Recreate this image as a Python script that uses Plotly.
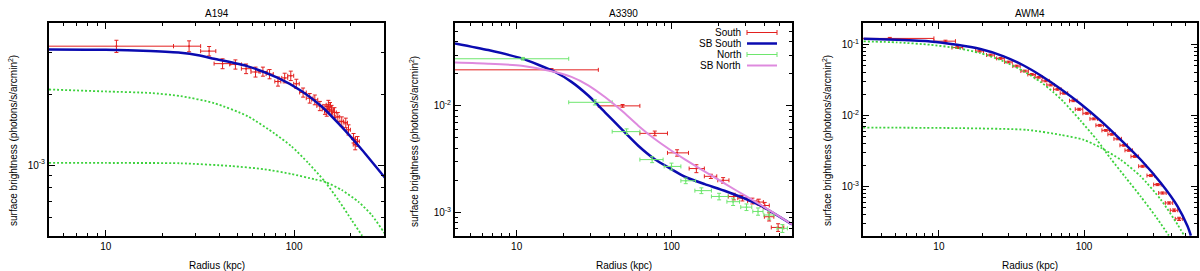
import math
import plotly.graph_objects as go

W, H = 1200, 271

# ---------------- A194 ----------------
a194_r   = [11.4, 27.7, 35.4, 41.7, 48.8, 55.6, 62.4, 68.3, 74.1, 82.1, 89.1, 96.0, 102.8, 111.6, 121.0,
            128.8, 137.0, 145.8, 149.0, 152.0, 155.0, 158.0, 163.7, 170.6, 179.0, 188.0, 194.4, 206.8, 211.0, 217.0]
a194_rlo = [0.5, 22.9, 31.9, 37.6, 45.5, 52.5, 59.0, 65.0, 71.0, 79.0, 86.0, 92.5, 99.5, 107.0, 116.0,
            124.0, 132.0, 141.0, 145.0, 148.0, 151.0, 154.0, 160.0, 166.5, 175.0, 184.0, 190.0, 202.0, 206.0, 212.0]
a194_rhi = [22.9, 31.9, 38.4, 46.1, 52.5, 59.0, 66.0, 72.0, 77.5, 85.0, 92.5, 99.5, 106.5, 116.0, 126.0,
            133.5, 142.0, 150.5, 153.0, 156.0, 159.0, 162.0, 167.5, 174.5, 183.0, 192.0, 199.0, 211.5, 216.0, 222.0]
a194_sb  = [3.19e-3, 3.19e-3, 3.04e-3, 2.69e-3, 2.67e-3, 2.56e-3, 2.48e-3, 2.49e-3, 2.43e-3, 2.26e-3, 2.34e-3,
            2.39e-3, 2.21e-3, 2.03e-3, 1.92e-3, 1.89e-3, 1.78e-3, 1.72e-3, 1.69e-3, 1.80e-3, 1.76e-3, 1.71e-3,
            1.67e-3, 1.60e-3, 1.53e-3, 1.51e-3, 1.41e-3, 1.30e-3, 1.22e-3, 1.26e-3]
a194_err = [0.19e-3, 0.17e-3, 0.14e-3, 0.13e-3, 0.12e-3, 0.12e-3, 0.12e-3, 0.11e-3, 0.11e-3, 0.10e-3, 0.11e-3,
            0.11e-3, 0.10e-3, 0.09e-3, 0.09e-3, 0.09e-3, 0.08e-3, 0.08e-3, 0.08e-3, 0.08e-3, 0.08e-3, 0.08e-3,
            0.08e-3, 0.07e-3, 0.07e-3, 0.07e-3, 0.07e-3, 0.06e-3, 0.06e-3, 0.06e-3]
a194_model_r  = [5.0, 10.0, 17.26, 24.97, 31.0, 37.62, 56.75, 82.1, 109.4, 140.0, 179.0, 229.0, 305.1]
a194_model_sb = [3.09e-3, 3.08e-3, 3.04e-3, 2.99e-3, 2.92e-3, 2.82e-3, 2.62e-3, 2.34e-3, 2.06e-3, 1.77e-3,
                 1.45e-3, 1.16e-3, 8.78e-4]
a194_c1_r  = [5.0, 10.0, 17.26, 24.97, 37.62, 56.75, 78.7, 96.8, 118.9, 145.9, 171.8, 202.4, 229.0, 245.0]
a194_c1_sb = [2.09e-3, 2.05e-3, 2.02e-3, 1.96e-3, 1.83e-3, 1.61e-3, 1.36e-3, 1.20e-3, 1.02e-3, 8.49e-4, 7.10e-4,
              5.83e-4, 5.03e-4, 4.6e-4]
a194_c2_r  = [5.0, 10.0, 24.9, 46.3, 69.7, 96.8, 128.8, 145.9, 179.0, 219.6, 258.8, 299.0, 320.0]
a194_c2_sb = [1.02e-3, 1.02e-3, 1.017e-3, 9.9e-4, 9.59e-4, 9.16e-4, 8.69e-4, 8.49e-4, 7.83e-4, 6.98e-4, 6.12e-4,
              5.20e-4, 4.8e-4]

# ---------------- A3390 ----------------
s_r   = [16.8, 48.3, 78.0, 108.7, 144.8, 179.6, 215.5, 252.4, 287.0, 333.0, 366.0, 400.0, 427.0, 488.0]
s_rlo = [0.3, 33.7, 62.5, 94.2, 130.0, 163.0, 199.0, 233.0, 268.0, 310.0, 342.0, 374.0, 398.0, 441.0]
s_rhi = [33.7, 62.5, 94.2, 128.8, 163.0, 196.0, 235.0, 277.0, 306.0, 357.0, 392.0, 428.0, 458.0, 531.0]
s_sb  = [2.18e-2, 1.0e-2, 5.52e-3, 3.62e-3, 2.58e-3, 2.18e-3, 2.0e-3, 1.41e-3, 1.36e-3, 1.28e-3, 1.25e-3,
         1.16e-3, 9.1e-4, 7.22e-4]
s_err = [0.06e-2, 0.03e-2, 0.28e-3, 0.25e-3, 0.22e-3, 0.10e-3, 0.12e-3, 0.10e-3, 0.08e-3, 0.08e-3, 0.08e-3,
         0.08e-3, 0.8e-4, 0.6e-4]
n_r   = [11.0, 32.0, 51.3, 75.0, 100.0, 123.6, 156.0, 203.0, 250.0, 305.0, 362.0, 427.0, 520.0]
n_rlo = [0.3, 21.7, 41.4, 62.5, 89.7, 115.0, 141.6, 181.0, 228.0, 280.0, 335.0, 395.0, 480.0]
n_rhi = [21.7, 41.4, 62.5, 88.3, 115.0, 143.0, 181.0, 232.0, 275.0, 330.0, 390.0, 460.0, 560.0]
n_sb  = [2.77e-2, 1.08e-2, 5.73e-3, 3.13e-3, 2.70e-3, 1.98e-3, 1.60e-3, 1.41e-3, 1.26e-3, 1.12e-3, 1.02e-3,
         9.45e-4, 7.08e-4]
n_err = [0.08e-2, 0.06e-2, 0.35e-3, 0.20e-3, 0.20e-3, 0.12e-3, 0.10e-3, 0.10e-3, 0.10e-3, 0.08e-3, 0.08e-3,
         0.8e-4, 0.6e-4]
sbs_r  = [4.0, 6.56, 10.77, 17.7, 22.6, 29.0, 37.2, 47.6, 61.0, 78.0, 100.0, 121.9, 164.0, 226.5, 371.0, 600.0]
sbs_sb = [3.86e-2, 3.34e-2, 2.79e-2, 2.08e-2, 1.68e-2, 1.25e-2, 8.71e-3, 6.05e-3, 4.22e-3, 3.15e-3, 2.54e-3,
          2.16e-3, 1.84e-3, 1.57e-3, 1.17e-3, 7.7e-4]
sbn_r  = [4.0, 6.56, 10.77, 17.7, 22.6, 29.0, 37.2, 47.6, 61.0, 78.0, 100.0, 121.9, 152.5, 226.5, 305.0,
          410.0, 600.0]
sbn_sb = [2.55e-2, 2.49e-2, 2.38e-2, 2.08e-2, 1.87e-2, 1.56e-2, 1.21e-2, 9.04e-3, 6.52e-3, 4.88e-3, 3.79e-3,
          3.15e-3, 2.58e-3, 1.82e-3, 1.41e-3, 1.09e-3, 7.7e-4]

# ---------------- AWM4 ----------------
w_r   = [4.59, 11.1, 13.4, 19.1, 22.7, 26.6, 30.2, 34.3, 39.0, 43.6, 48.7, 54.4, 58.9, 65.6, 72.8, 84.5, 92.5,
         104.4, 116.7, 128.3, 141.2, 155.2, 170.8, 187.8, 203.4, 223.7, 252.8, 288.5, 320.8, 347.3, 385.5, 417.4, 451.6]
w_rlo = [0.3, 9.24, 12.3, 17.9, 21.3, 25.0, 28.4, 32.3, 36.7, 41.0, 45.8, 51.2, 55.4, 61.7, 68.5, 79.5, 87.0,
         98.2, 109.8, 120.7, 132.8, 146.0, 160.7, 176.7, 191.4, 210.5, 237.8, 271.4, 301.8, 326.7, 362.7, 392.7, 424.9]
w_rhi = [9.24, 13.0, 14.6, 20.3, 24.1, 28.2, 32.0, 36.3, 41.3, 46.2, 51.6, 57.6, 62.4, 69.5, 77.1, 89.5, 98.0,
         110.6, 123.6, 135.9, 149.6, 164.4, 180.9, 198.9, 215.4, 236.9, 267.8, 305.6, 339.8, 367.9, 408.3, 442.1, 478.3]
w_sb  = [0.1213, 0.111, 0.0902, 0.0805, 0.0708, 0.0635, 0.0564, 0.0495, 0.0421, 0.0377, 0.0344, 0.0306, 0.0268,
         0.0233, 0.0205, 0.0161, 0.0122, 0.0107, 8.93e-3, 7.24e-3, 6.15e-3, 5.41e-3, 4.67e-3, 3.79e-3, 3.22e-3,
         2.64e-3, 1.92e-3, 1.42e-3, 1.06e-3, 8.07e-4, 5.84e-4, 4.61e-4, 3.49e-4]
w_err = [0.004, 0.0035, 0.0027, 0.0024, 0.0021, 0.0019, 0.0017, 0.0015, 0.0013, 0.0011, 0.0010, 0.0009, 0.0008,
         0.0007, 0.0006, 0.0005, 0.0004, 0.00033, 0.00027, 0.00022, 0.00018, 0.00016, 0.00014, 0.00011, 0.0001,
         0.8e-4, 0.6e-4, 0.45e-4, 0.35e-4, 0.28e-4, 0.22e-4, 0.2e-4, 0.18e-4]
w_model_r  = [3.03, 5.13, 8.72, 13.31, 19.30, 27.94, 38.38, 50.29, 69.07, 94.89, 130.4, 179.1, 246.0, 338.1,
              440.7, 516.6, 544.4]
w_model_sb = [0.1199, 0.1161, 0.1102, 0.0987, 0.0859, 0.0679, 0.0504, 0.0365, 0.0236, 0.0145, 8.37e-3, 4.53e-3,
              2.37e-3, 1.116e-3, 5.24e-4, 2.74e-4, 2.03e-4]
w_c1_r  = [3.03, 5.13, 8.72, 13.31, 19.30, 27.94, 38.38, 50.29, 61.8, 72.4, 94.89, 122.4, 152.8, 193.9, 246.0,
           312.2, 383.8]
w_c1_sb = [0.1102, 0.1067, 0.0987, 0.0887, 0.0754, 0.0577, 0.0418, 0.0295, 0.0210, 0.0155, 8.37e-3, 4.53e-3,
           2.45e-3, 1.325e-3, 7.17e-4, 3.75e-4, 2.03e-4]
w_c2_r  = [3.01, 14.1, 40.7, 69.07, 99.5, 130.4, 179.1, 246.0, 338.1, 440.7, 489.5]
w_c2_sb = [6.74e-3, 6.61e-3, 6.25e-3, 5.32e-3, 4.53e-3, 3.50e-3, 2.37e-3, 1.38e-3, 6.5e-4, 2.90e-4, 2.03e-4]

titles = ["A194", "A3390", "AWM4"]
x_ranges = [(5, 300), (4, 600), (3, 600)]
y_ranges = [(5e-4, 4e-3), (6e-4, 6e-2), (2e-4, 0.2)]
x_major = [10, 100]
y_major = [[1e-3], [1e-2, 1e-3], [1e-1, 1e-2, 1e-3]]
y_major_text = [["10<sup>-3</sup>"], ["10<sup>-2</sup>", "10<sup>-3</sup>"],
                ["10<sup>-1</sup>", "10<sup>-2</sup>", "10<sup>-3</sup>"]]

RED = "#e3201f"
BLUE = "#0b0bb0"
LGREEN = "#6ee66e"
DGREEN = "#3dd23d"
PINK = "#de8ade"
FONT = "Liberation Sans"

# pixel layout of the three panels
px_x = [(49, 384), (455, 792), (863, 1197)]
px_top, px_bot = 23, 236
ydom = [1 - px_bot / H, 1 - px_top / H]

fig = go.Figure()


def minor_vals(lo, hi):
    vals = []
    for e in range(-6, 4):
        for m in range(2, 10):
            v = m * 10 ** e
            if lo <= v <= hi:
                vals.append(v)
    return vals


def errtrace(r, rlo, rhi, sb, err, color, xa, ya):
    return go.Scatter(
        x=r, y=sb, mode="markers", xaxis=xa, yaxis=ya, showlegend=False,
        marker=dict(size=2, color=color),
        error_x=dict(type="data", symmetric=False,
                     array=[h - c for h, c in zip(rhi, r)],
                     arrayminus=[c - l for c, l in zip(r, rlo)],
                     color=color, thickness=1, width=2),
        error_y=dict(type="data", array=err, color=color, thickness=1, width=2),
    )


def line(r, sb, color, width, dash, xa, ya):
    return go.Scatter(x=r, y=sb, mode="lines", xaxis=xa, yaxis=ya, showlegend=False,
                      line=dict(color=color, width=width, dash=dash, shape="spline", smoothing=0.6))


DOT = "2px,2px"
# Panel 1
fig.add_trace(errtrace(a194_r, a194_rlo, a194_rhi, a194_sb, a194_err, RED, "x", "y"))
fig.add_trace(line(a194_model_r, a194_model_sb, BLUE, 2.5, "solid", "x", "y"))
fig.add_trace(line(a194_c1_r, a194_c1_sb, DGREEN, 1.8, DOT, "x", "y"))
fig.add_trace(line(a194_c2_r, a194_c2_sb, DGREEN, 1.8, DOT, "x", "y"))
# Panel 2
fig.add_trace(errtrace(s_r, s_rlo, s_rhi, s_sb, s_err, RED, "x2", "y2"))
fig.add_trace(line(sbs_r, sbs_sb, BLUE, 2.5, "solid", "x2", "y2"))
fig.add_trace(errtrace(n_r, n_rlo, n_rhi, n_sb, n_err, LGREEN, "x2", "y2"))
fig.add_trace(line(sbn_r, sbn_sb, PINK, 2, "solid", "x2", "y2"))
# Panel 3
fig.add_trace(errtrace(w_r, w_rlo, w_rhi, w_sb, w_err, RED, "x3", "y3"))
fig.add_trace(line(w_model_r, w_model_sb, BLUE, 2.5, "solid", "x3", "y3"))
fig.add_trace(line(w_c1_r, w_c1_sb, DGREEN, 1.8, DOT, "x3", "y3"))
fig.add_trace(line(w_c2_r, w_c2_sb, DGREEN, 1.8, DOT, "x3", "y3"))

layout = dict(width=W, height=H, margin=dict(l=0, r=0, t=0, b=0),
              paper_bgcolor="white", plot_bgcolor="white", showlegend=False,
              font=dict(family=FONT, size=10, color="black"))
annotations = []
shapes = []
for i in range(3):
    sx = "" if i == 0 else str(i + 1)
    x0, x1 = x_ranges[i]
    y0, y1 = y_ranges[i]
    common = dict(type="log", showline=True, linecolor="black", linewidth=2, mirror="allticks",
                  ticks="inside", ticklen=6, tickwidth=1, tickcolor="black", showgrid=False,
                  zeroline=False, tickfont=dict(family=FONT, size=10, color="black"))
    layout["xaxis" + sx] = dict(common, domain=[px_x[i][0] / W, px_x[i][1] / W],
                                range=[math.log10(x0), math.log10(x1)],
                                anchor="y" + sx, tickmode="array", tickvals=x_major,
                                ticktext=[str(v) for v in x_major],
                                minor=dict(tickmode="array", tickvals=minor_vals(x0, x1), ticks="inside",
                                           ticklen=3, tickcolor="black", tickwidth=1))
    layout["yaxis" + sx] = dict(common, domain=ydom, range=[math.log10(y0), math.log10(y1)],
                                anchor="x" + sx, tickmode="array", tickvals=y_major[i],
                                ticktext=y_major_text[i],
                                minor=dict(tickmode="array", tickvals=minor_vals(y0, y1), ticks="inside",
                                           ticklen=3, tickcolor="black", tickwidth=1))
    cx = (px_x[i][0] + px_x[i][1]) / 2 / W
    annotations.append(dict(text=titles[i], x=cx, y=1 - 13 / H, xref="paper", yref="paper",
                            showarrow=False, xanchor="center", yanchor="middle",
                            font=dict(family=FONT, size=10)))
    annotations.append(dict(text="Radius (kpc)", x=cx, y=1 - 265 / H, xref="paper", yref="paper",
                            showarrow=False, xanchor="center", yanchor="middle",
                            font=dict(family=FONT, size=10)))
    ylab_x = [13, 414, 827][i]
    annotations.append(dict(text="surface brightness (photons/s/arcmin<sup>2</sup>)", x=ylab_x / W,
                            y=1 - 141 / H, xref="paper", yref="paper", showarrow=False, textangle=-90,
                            xanchor="center", yanchor="middle", font=dict(family=FONT, size=10)))

# legend of the A3390 panel (gnuplot style: text left, sample right)
leg_labels = ["South", "SB South", "North", "SB North"]
leg_colors = [RED, BLUE, LGREEN, PINK]
leg_widths = [1, 2.5, 1, 2]
leg_caps = [True, False, True, False]
for k in range(4):
    yy = 32.5 + 11 * k
    annotations.append(dict(text=leg_labels[k], x=743 / W, y=1 - yy / H, xref="paper", yref="paper",
                            showarrow=False, xanchor="right", yanchor="middle",
                            font=dict(family=FONT, size=10)))
    shapes.append(dict(type="line", xref="paper", yref="paper", x0=747 / W, x1=777 / W,
                       y0=1 - yy / H, y1=1 - yy / H, line=dict(color=leg_colors[k], width=leg_widths[k])))
    if leg_caps[k]:
        for xe in (747, 777):
            shapes.append(dict(type="line", xref="paper", yref="paper", x0=xe / W, x1=xe / W,
                               y0=1 - (yy - 2.5) / H, y1=1 - (yy + 2.5) / H,
                               line=dict(color=leg_colors[k], width=1)))

layout["annotations"] = annotations
layout["shapes"] = shapes
fig.update_layout(**layout)
fig.write_html("out.html", config={"displayModeBar": False},
               post_script="document.body.style.margin='0';document.body.style.overflow='hidden';")
